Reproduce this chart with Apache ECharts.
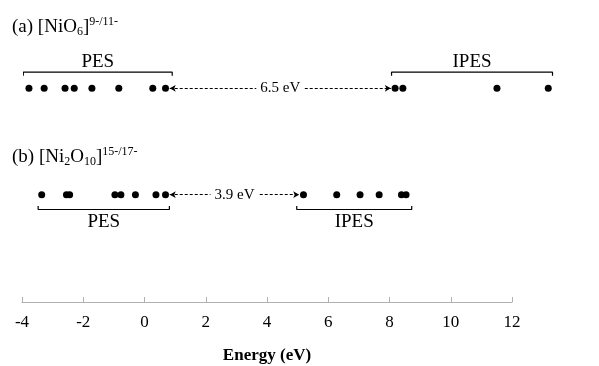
<!DOCTYPE html>
<html>
<head>
<meta charset="utf-8">
<script src="https://cdn.jsdelivr.net/npm/echarts@6/dist/echarts.min.js"></script>
<style>
  html, body { margin: 0; padding: 0; background: #fff; }
  #grafico { width: 599px; height: 366px; }
</style>
</head>
<body>
<div id="grafico"></div>
<script>
// energias (eV) de los estados
const pesA = [-3.86, -3.43, -2.84, -2.58, -2.08, -1.32, -0.36, 0];
const ipesA = [6.49, 6.71, 9.37, 10.82];
const pesB = [-3.50, -2.80, -2.71, -1.43, -1.26, -0.85, -0.27, 0];
const ipesB = [3.90, 4.84, 5.50, 6.04, 6.67, 6.80];

// gaps marcados con flechas
const gapA = 6.5;
const gapB = 3.9;

// extremos de las llaves PES / IPES
const llavesA = [[-4.02, 0.19, "PES"], [6.39, 10.94, "IPES"]];
const llavesB = [[-3.60, 0.11, "PES"], [3.71, 6.96, "IPES"]];

// eje de energia
const ejeMin = -4;
const ejeMax = 12;
const ejePaso = 2;

// niveles verticales (eje oculto, 0 arriba)
const FILA_A = 88.3, FILA_B = 194.7;
const LLAVE_A = 72.2, LLAVE_B = 209.5;
const TEXTO_A = 62, TEXTO_B = 222;

const fuente = "Liberation Serif";

function puntos(valores, y) {
    return valores.map(function (v) { return [v, y]; });
}

function serieLlave(llave, y, dir) {
    return {
        type: "line",
        xAxisIndex: 1, yAxisIndex: 1,
        symbol: "none",
        silent: true,
        lineStyle: { color: "#000", width: 1.2 },
        data: [[llave[0], y + dir * 3.5], [llave[0], y], [llave[1], y], [llave[1], y + dir * 3.5]]
    };
}

function serieFlecha(desde, hasta, y, texto) {
    return {
        type: "scatter",
        xAxisIndex: 1, yAxisIndex: 1,
        data: [],
        markLine: {
            silent: true,
            symbol: ["arrow", "arrow"],
            symbolSize: [5, 6],
            lineStyle: { color: "#000", width: 1, type: [3, 2] },
            label: {
                show: true,
                position: "insideMiddle",
                formatter: texto,
                fontFamily: fuente,
                fontSize: 15,
                color: "#000",
                backgroundColor: "#fff",
                padding: [0, 4]
            },
            data: [[{ coord: [desde, y] }, { coord: [hasta, y] }]]
        }
    };
}

function etiquetas(llaves, y) {
    return llaves.map(function (l) {
        return { value: [(l[0] + l[1]) / 2, y], name: l[2] };
    });
}

const grafico = echarts.init(document.getElementById("grafico"));

const estiloPunto = { color: "#000", opacity: 1 };

const richTitulo = {
    t: { fontFamily: fuente, fontSize: 19, lineHeight: 22, fill: "#000" },
    sub: { fontFamily: fuente, fontSize: 12, lineHeight: 12, verticalAlign: "bottom", fill: "#000" },
    sup: { fontFamily: fuente, fontSize: 12, lineHeight: 12, verticalAlign: "top", fill: "#000" }
};

grafico.setOption({
    animation: false,
    grid: [
        { left: 22, right: 87, top: 20, bottom: 64, outerBoundsMode: "none" },
        { left: 24, right: 9, top: 0, height: 300, outerBoundsMode: "none" }
    ],
    xAxis: [
        {
            gridIndex: 0,
            type: "value",
            min: ejeMin, max: ejeMax, interval: ejePaso,
            name: "Energy (eV)",
            nameLocation: "middle",
            nameGap: 45,
            nameTextStyle: { fontFamily: fuente, fontSize: 17, fontWeight: "bold", color: "#000" },
            axisLine: { lineStyle: { color: "#b0b0b0", width: 1 } },
            axisTick: { inside: true, length: 5, lineStyle: { color: "#b0b0b0" } },
            axisLabel: { fontFamily: fuente, fontSize: 17, color: "#000", margin: 12 },
            splitLine: { show: false }
        },
        { gridIndex: 1, type: "value", min: -4, max: 12, show: false }
    ],
    yAxis: [
        { gridIndex: 0, type: "value", show: false },
        { gridIndex: 1, type: "value", min: 0, max: 300, inverse: true, show: false }
    ],
    graphic: [
        {
            type: "text", left: 12, top: 16,
            style: { text: "{t|(a) [NiO}{sub|6}{t|]}{sup|9-/11-}", rich: richTitulo }
        },
        {
            type: "text", left: 12, top: 146,
            style: { text: "{t|(b) [Ni}{sub|2}{t|O}{sub|10}{t|]}{sup|15-/17-}", rich: richTitulo }
        }
    ],
    series: [
        { type: "scatter", xAxisIndex: 1, yAxisIndex: 1, symbolSize: 7, itemStyle: estiloPunto, data: puntos(pesA, FILA_A) },
        { type: "scatter", xAxisIndex: 1, yAxisIndex: 1, symbolSize: 7, itemStyle: estiloPunto, data: puntos(ipesA, FILA_A) },
        { type: "scatter", xAxisIndex: 1, yAxisIndex: 1, symbolSize: 7, itemStyle: estiloPunto, data: puntos(pesB, FILA_B) },
        { type: "scatter", xAxisIndex: 1, yAxisIndex: 1, symbolSize: 7, itemStyle: estiloPunto, data: puntos(ipesB, FILA_B) },
        serieLlave(llavesA[0], LLAVE_A, 1),
        serieLlave(llavesA[1], LLAVE_A, 1),
        serieLlave(llavesB[0], LLAVE_B, -1),
        serieLlave(llavesB[1], LLAVE_B, -1),
        serieFlecha(pesA[pesA.length - 1] + 0.12, ipesA[0] - 0.12, FILA_A, gapA + " eV"),
        serieFlecha(pesB[pesB.length - 1] + 0.12, ipesB[0] - 0.12, FILA_B, gapB + " eV"),
        {
            type: "scatter",
            xAxisIndex: 1, yAxisIndex: 1,
            symbolSize: 1,
            itemStyle: { color: "rgba(255,255,255,0)", opacity: 1 },
            silent: true,
            label: {
                show: true, position: "inside", formatter: "{b}",
                fontFamily: fuente, fontSize: 19, color: "#000"
            },
            data: etiquetas(llavesA, TEXTO_A).concat(etiquetas(llavesB, TEXTO_B))
        }
    ]
});
</script>
</body>
</html>
